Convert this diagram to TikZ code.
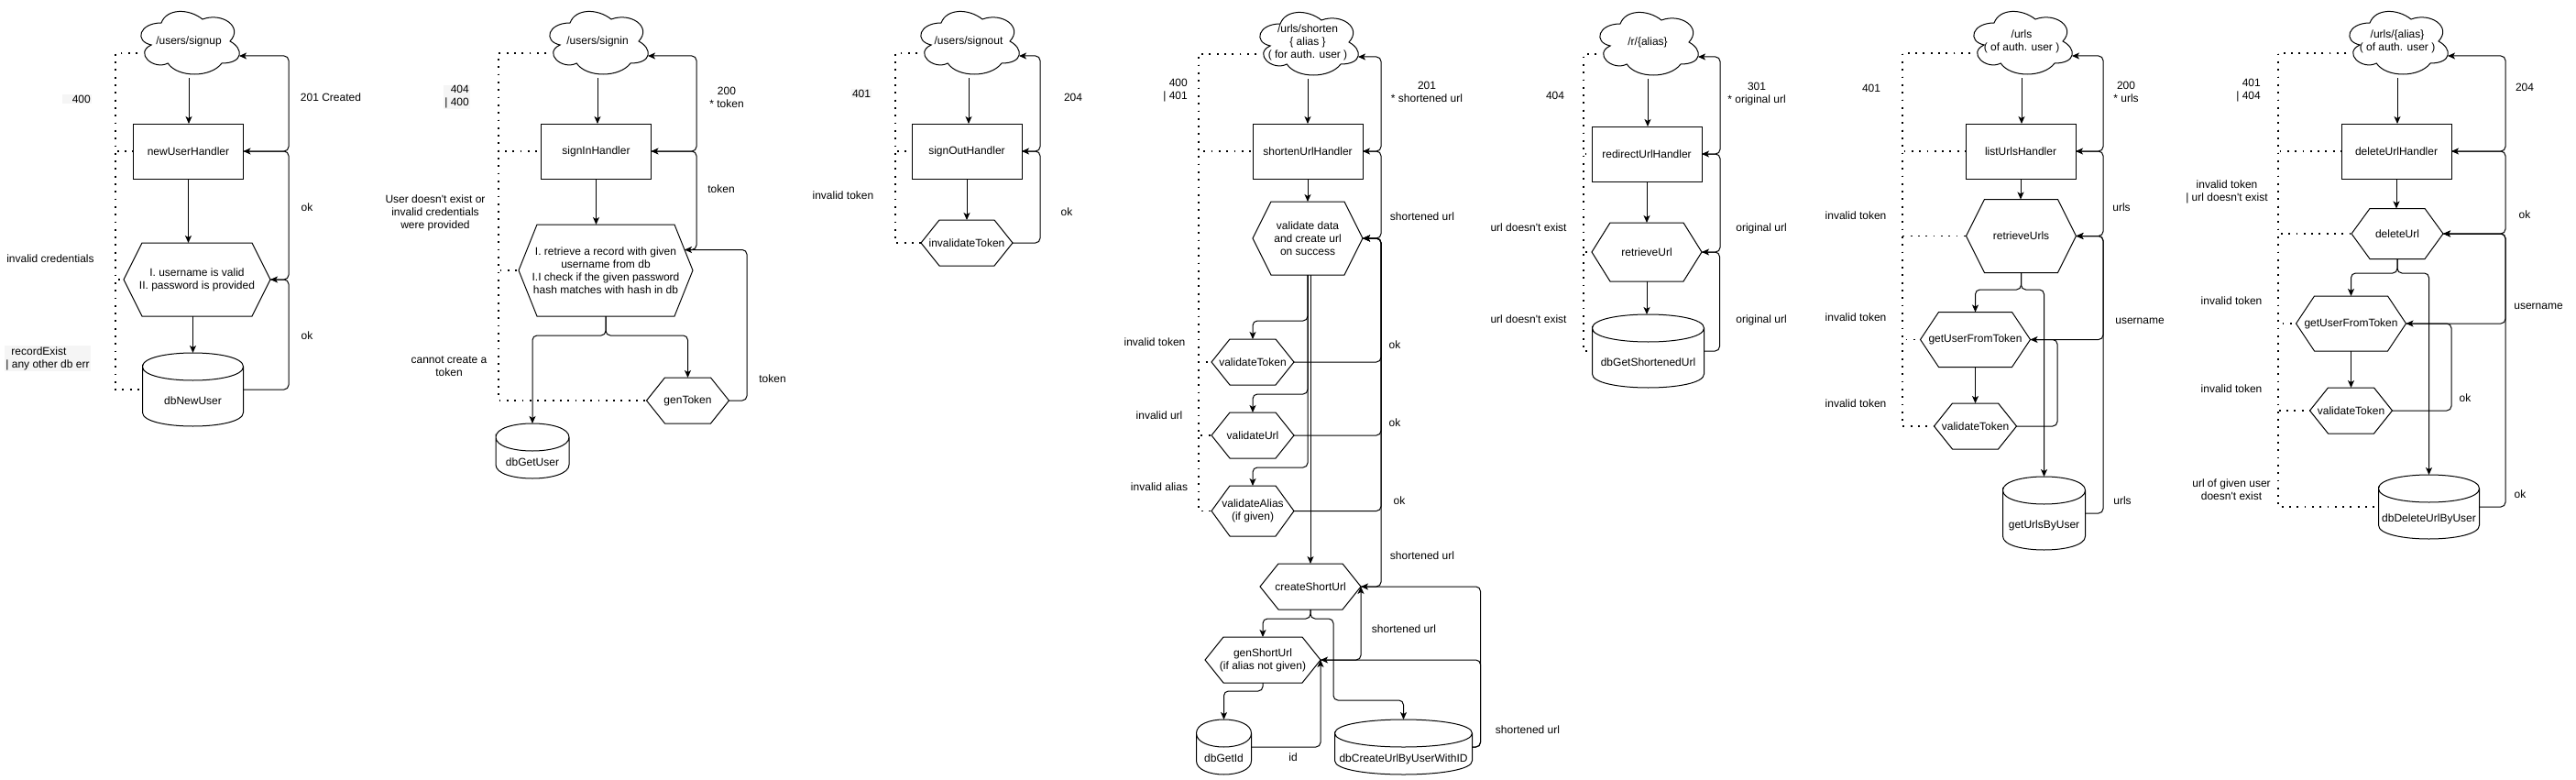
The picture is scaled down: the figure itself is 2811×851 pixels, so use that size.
\documentclass[tikz,border=0pt]{standalone}
\usepackage{fontspec}
\setmainfont{Liberation Sans}
\usetikzlibrary{arrows.meta,calc}

\begin{document}
\begin{tikzpicture}[x=1pt,y=-1pt,
    every node/.style={font=\fontsize{12}{14}\selectfont},
    handler/.style={draw,line width=1pt,minimum width=120pt,minimum height=60pt,outer sep=0pt},
    hexbox/.style 2 args={minimum width=#1,minimum height=#2,inner sep=0pt,outer sep=0pt,align=center},
    dbbox/.style 2 args={minimum width=#1,minimum height=#2,inner sep=0pt,outer sep=0pt,text height=35pt,text depth=2.5pt},
    cloudbox/.style={minimum width=120pt,minimum height=80pt,inner sep=0pt,outer sep=0pt,align=center},
    lbl/.style={align=center,inner sep=1pt},
    hl/.style={fill=black!4},
    flow/.style={line width=1pt,rounded corners=5pt,-{Stealth[length=8pt,width=7pt,inset=2pt]}},
    err/.style={line width=1.8pt,dash pattern=on 1.8pt off 6.5pt}]

    \fill[white] (0,0) rectangle (2811,851);
    \useasboundingbox (0,0) rectangle (2811,851);

    % signup
    \node[cloudbox] (c1) at (206,45) {/users/signup};
    \node[handler] (r1) at (205.5,165) {newUserHandler};
    \node[hexbox={160pt}{80pt}] (x1) at (215,305) {I. username is valid\\II. password is provided};
    \node[dbbox={110pt}{80pt}] (d1) at (210.5,425) {dbNewUser};
    \coordinate (c1in) at ([xshift=-5pt,yshift=-16pt]c1.east);
    \coordinate (c1e) at ([xshift=4pt,yshift=-13pt]c1.west);

    \draw[flow] (c1.south) -- (c1.south |- r1.north);
    \draw[flow] (r1.south) -- (r1.south |- x1.north);
    \draw[flow] (x1.south -| d1.north) -- (d1.north);
    \draw[flow] (d1.east) -- ++(49.5,0) |- (x1.east);
    \draw[flow] (x1.east) -- ++(20,0) |- (r1.east);
    \draw[flow] (r1.east) -- ++(49.5,0) |- (c1in);
    \foreach \t in {r1,x1,d1} \draw[err] (c1e) -- ++(-24,0) |- (\t.west);

    \node[lbl,hl,anchor=east] (l1a) at (100,108) {\hspace{10pt}400};
    \node[lbl] (l1b) at (55,282) {invalid credentials};
    \node[lbl,hl,align=left] (l1c) at (52,391) {\hspace{6pt}recordExist\\| any other db err};
    \node[lbl] (l1d) at (361,106) {201 Created};
    \node[lbl] (l1e) at (335,226) {ok};
    \node[lbl] (l1f) at (335,366) {ok};

    % signin
    \node[cloudbox] (c2) at (652,45) {/users/signin};
    \node[handler] (r2) at (650.5,165) {signInHandler};
    \node[hexbox={190pt}{100pt}] (x2) at (661,295) {I. retrieve a record with given\\username from db\\I.I check if the given password\\hash matches with hash in db};
    \node[hexbox={90pt}{50pt}] (g2) at (750.5,437) {genToken};
    \node[dbbox={80pt}{60pt}] (b2) at (581,492) {dbGetUser};
    \coordinate (c2in) at ([xshift=-5pt,yshift=-16pt]c2.east);
    \coordinate (c2e) at ([xshift=4pt,yshift=-13pt]c2.west);
    \coordinate (x2tok) at ($([xshift=-20pt]x2.north east)!0.55!(x2.east)$);

    \draw[flow] (c2.south) -- (c2.south |- r2.north);
    \draw[flow] (r2.south) -- (r2.south |- x2.north);
    \draw[flow] (x2.south) -- ++(0,21) -| (b2.north);
    \draw[flow] (x2.south) -- ++(0,21) -| (g2.north);
    \draw[flow] (g2.east) -- ++(19.5,0) |- (x2tok);
    \draw[flow] (x2tok) -- ++(13,0) |- (r2.east);
    \draw[flow] (r2.east) -- ++(49.5,0) |- (c2in);
    \foreach \t in {r2,x2,g2} \draw[err] (c2e) -- ++(-52,0) |- (\t.west);

    \node[lbl,hl,anchor=east,align=right] (l2a) at (513,106) {404\\| 400};
    \node[lbl] (l2b) at (475,232) {User doesn\textquotesingle t exist or\\invalid credentials\\were provided};
    \node[lbl] (l2c) at (490,400) {cannot create a\\token};
    \node[lbl] (l2d) at (793,106) {200\\* token};
    \node[lbl] (l2e) at (787,206) {token};
    \node[lbl] (l2f) at (843,413) {token};

    % signout
    \node[cloudbox] (c3) at (1057,45) {/users/signout};
    \node[handler] (r3) at (1055,165) {signOutHandler};
    \node[hexbox={100pt}{50pt}] (x3) at (1055,265) {invalidateToken};
    \coordinate (c3in) at ([xshift=-5pt,yshift=-16pt]c3.east);
    \coordinate (c3e) at ([xshift=4pt,yshift=-13pt]c3.west);

    \draw[flow] (c3.south) -- (c3.south |- r3.north);
    \draw[flow] (r3.south) -- (x3.north);
    \draw[flow] (x3.east) -- ++(30,0) |- (r3.east);
    \draw[flow] (r3.east) -- ++(20,0) |- (c3in);
    \foreach \t in {r3,x3} \draw[err] (c3e) -- ++(-24,0) |- (\t.west);

    \node[lbl,hl] (l3a) at (940,102) {401};
    \node[lbl] (l3b) at (920,213) {invalid token};
    \node[lbl] (l3c) at (1171,106) {204};
    \node[lbl] (l3d) at (1164,231) {ok};

    % shorten
    \node[cloudbox] (c4) at (1427,46) {/urls/shorten\\\{ alias \}\\( for auth. user )};
    \node[handler] (r4) at (1427,165) {shortenUrlHandler};
    \node[hexbox={120pt}{80pt}] (v4) at (1427,260) {validate data\\and create url\\on success};
    \node[hexbox={90pt}{50pt}] (t4) at (1367,395) {validateToken};
    \node[hexbox={90pt}{50pt}] (u4) at (1367,475) {validateUrl};
    \node[hexbox={90pt}{55pt}] (a4) at (1367,557.5) {validateAlias\\(if given)};
    \node[hexbox={110pt}{50pt}] (s4) at (1430,640) {createShortUrl};
    \node[hexbox={126pt}{50pt}] (g4) at (1378,720) {genShortUrl\\(if alias not given)};
    \node[dbbox={60pt}{60pt}] (i4) at (1335.5,815) {dbGetId};
    \node[dbbox={150pt}{60pt}] (d4) at (1531.5,815) {dbCreateUrlByUserWithID};
    \coordinate (c4in) at ([xshift=-5pt,yshift=-16pt]c4.east);
    \coordinate (c4e) at ([xshift=4pt,yshift=-13pt]c4.west);

    \draw[flow] (c4.south) -- (r4.north);
    \draw[flow] (r4.south) -- (v4.north);
    \draw[flow] (v4.south) -- ++(0,50) -| (t4.north);
    \draw[flow] (v4.south) -- ++(0,130) -| (u4.north);
    \draw[flow] (v4.south) -- ++(0,210) -| (a4.north);
    \draw[flow] (v4.south -| s4.north) -- (s4.north);
    \draw[flow] (t4.east) -- ++(95,0) |- (v4.east);
    \draw[flow] (u4.east) -- ++(95,0) |- (v4.east);
    \draw[flow] (a4.east) -- ++(95,0) |- (v4.east);
    \draw[flow] (s4.east) -- ++(22,0) |- (v4.east);
    \draw[flow] (v4.east) -- ++(20,0) |- (r4.east);
    \draw[flow] (r4.east) -- ++(20,0) |- (c4in);
    \draw[flow] (s4.south) -- ++(0,10) -| (g4.north);
    \draw[flow] (s4.south) -- ++(0,10) -- ++(25,0) -- ++(0,89) -| (d4.north);
    \draw[flow] (g4.south) -- ++(0,9) -| (i4.north);
    \draw[flow] (i4.east) -| (g4.east);
    \draw[flow] (g4.east) -| (s4.east);
    \draw[flow] (d4.east) -- ++(9,0) |- (g4.east);
    \draw[flow] (d4.east) -- ++(9,0) |- (s4.east);
    \foreach \t in {r4,t4,u4,a4} \draw[err] (c4e) -- ++(-63,0) |- (\t.west);

    \node[lbl,anchor=east,align=right] (l4a) at (1297,99) {400\\| 401};
    \node[lbl] (l4b) at (1260,373) {invalid token};
    \node[lbl] (l4c) at (1265,453) {invalid url};
    \node[lbl] (l4d) at (1265,531) {invalid alias};
    \node[lbl] (l4e) at (1557,100) {201\\* shortened url};
    \node[lbl] (l4f) at (1552,236) {shortened url};
    \node[lbl] (l4g) at (1522,376) {ok};
    \node[lbl] (l4h) at (1522,461) {ok};
    \node[lbl] (l4i) at (1527,546) {ok};
    \node[lbl] (l4j) at (1552,606) {shortened url};
    \node[lbl] (l4k) at (1532,686) {shortened url};
    \node[lbl] (l4l) at (1411,826) {id};
    \node[lbl] (l4m) at (1667,796) {shortened url};

    % redirect
    \node[cloudbox] (c5) at (1798,46) {/r/\{alias\}};
    \node[handler] (r5) at (1797,168) {redirectUrlHandler};
    \node[hexbox={120pt}{64pt}] (x5) at (1797,275) {retrieveUrl};
    \node[dbbox={122pt}{80pt}] (d5) at (1798.5,383) {dbGetShortenedUrl};
    \coordinate (c5in) at ([xshift=-5pt,yshift=-16pt]c5.east);
    \coordinate (c5e) at ([xshift=4pt,yshift=-13pt]c5.west);

    \draw[flow] (c5.south) -- (c5.south |- r5.north);
    \draw[flow] (r5.south) -- (x5.north);
    \draw[flow] (x5.south) -- (x5.south |- d5.north);
    \draw[flow] (d5.east) -- ++(17,0) |- (x5.east);
    \draw[flow] (x5.east) -- ++(20,0) |- (r5.east);
    \draw[flow] (r5.east) -- ++(20,0) |- (c5in);
    \foreach \t in {r5,x5,d5} \draw[err] (c5e) -- ++(-14,0) |- (\t.west);

    \node[lbl] (l5a) at (1697,104) {404};
    \node[lbl] (l5b) at (1668,248) {url doesn\textquotesingle t exist};
    \node[lbl] (l5c) at (1668,348) {url doesn\textquotesingle t exist};
    \node[lbl] (l5d) at (1917,103) {301\\* original url};
    \node[lbl] (l5e) at (1922,249) {original url};
    \node[lbl] (l5f) at (1922,349) {original url};

    % list urls
    \node[cloudbox] (c6) at (2206,45) {/urls\\( of auth. user )};
    \node[handler] (r6) at (2205,165) {listUrlsHandler};
    \node[hexbox={120pt}{80pt}] (x6) at (2205.5,257.5) {retrieveUrls};
    \node[hexbox={120pt}{60pt}] (f6) at (2155.5,370.5) {getUserFromToken};
    \node[hexbox={90pt}{50pt}] (t6) at (2155.5,465) {validateToken};
    \node[dbbox={90pt}{80pt}] (d6) at (2230.5,560) {getUrlsByUser};
    \coordinate (c6in) at ([xshift=-5pt,yshift=-16pt]c6.east);
    \coordinate (c6e) at ([xshift=4pt,yshift=-13pt]c6.west);

    \draw[flow] (c6.south) -- (c6.south |- r6.north);
    \draw[flow] (r6.south) -- (r6.south |- x6.north);
    \draw[flow] (x6.south) -- ++(0,18.5) -| (f6.north);
    \draw[flow] (x6.south) -- ++(0,18.5) -| (d6.north);
    \draw[flow] (f6.south) -- (t6.north);
    \draw[flow] (t6.east) -- ++(44.5,0) |- (f6.east);
    \draw[flow] (f6.east) -- ++(79.5,0) |- (x6.east);
    \draw[flow] (d6.east) -- ++(19.5,0) |- (x6.east);
    \draw[flow] (x6.east) -- ++(29.5,0) |- (r6.east);
    \draw[flow] (r6.east) -- ++(30,0) |- (c6in);
    \foreach \t in {r6,x6,f6,t6} \draw[err] (c6e) -- ++(-74,0) |- (\t.west);

    \node[lbl] (l6a) at (2042,96) {401};
    \node[lbl] (l6b) at (2025,235) {invalid token};
    \node[lbl] (l6c) at (2025,346) {invalid token};
    \node[lbl] (l6d) at (2025,440) {invalid token};
    \node[lbl] (l6e) at (2320,100) {200\\* urls};
    \node[lbl] (l6f) at (2315,226) {urls};
    \node[lbl] (l6g) at (2335,350) {username};
    \node[lbl] (l6h) at (2316,546) {urls};

    % delete url
    \node[cloudbox] (c7) at (2616,45) {/urls/\{alias\}\\( of auth. user )};
    \node[handler] (r7) at (2615,165) {deleteUrlHandler};
    \node[hexbox={100pt}{55pt}] (x7) at (2616,255) {deleteUrl};
    \node[hexbox={120pt}{60pt}] (f7) at (2565.5,353) {getUserFromToken};
    \node[hexbox={90pt}{50pt}] (t7) at (2565.5,448) {validateToken};
    \node[dbbox={110pt}{70pt}] (d7) at (2650.5,553) {dbDeleteUrlByUser};
    \coordinate (c7in) at ([xshift=-5pt,yshift=-16pt]c7.east);
    \coordinate (c7e) at ([xshift=4pt,yshift=-13pt]c7.west);

    \draw[flow] (c7.south) -- (c7.south |- r7.north);
    \draw[flow] (r7.south) -- (r7.south |- x7.north);
    \draw[flow] (x7.south) -- ++(0,15.5) -| (f7.north);
    \draw[flow] (x7.south) -- ++(0,15.5) -| (d7.north);
    \draw[flow] (f7.south) -- (t7.north);
    \draw[flow] (t7.east) -- ++(64.5,0) |- (f7.east);
    \draw[flow] (f7.east) -- ++(108.5,0) |- (x7.east);
    \draw[flow] (d7.east) -- ++(28.5,0) |- (x7.east);
    \draw[flow] (x7.east) -- ++(68,0) |- (r7.east);
    \draw[flow] (r7.east) -- ++(59,0) |- (c7in);
    \foreach \t in {r7,x7,f7,t7,d7} \draw[err] (c7e) -- ++(-74,0) |- (\t.west);

    \node[lbl,anchor=east,align=right] (l7a) at (2468,99) {401\\| 404};
    \node[lbl] (l7b) at (2430,209) {invalid token\\| url doesn\textquotesingle t exist};
    \node[lbl] (l7c) at (2435,328.5) {invalid token};
    \node[lbl] (l7d) at (2435,424) {invalid token};
    \node[lbl] (l7e) at (2435,534) {url of given user\\doesn\textquotesingle t exist};
    \node[lbl] (l7f) at (2755,95) {204};
    \node[lbl] (l7g) at (2755,234) {ok};
    \node[lbl] (l7h) at (2770,334) {username};
    \node[lbl] (l7i) at (2690,434) {ok};
    \node[lbl] (l7j) at (2750,539) {ok};

    % outlines
    \foreach \n in {c1,c2,c3,c4,c5,c6,c7}
      \draw[line width=1pt,shift={(\n.north west)},x=120pt,y=-80pt] (0.25,0.25) .. controls (0.05,0.25) and (0,0.5) .. (0.16,0.55) .. controls (0,0.66) and (0.18,0.9) .. (0.31,0.8) .. controls (0.4,1) and (0.7,1) .. (0.8,0.8) .. controls (1,0.8) and (1,0.6) .. (0.875,0.5) .. controls (1,0.3) and (0.8,0.1) .. (0.625,0.2) .. controls (0.5,0.05) and (0.3,0.05) .. (0.25,0.25) -- cycle;
    \foreach \n in {x1,x2,g2,x3,v4,t4,u4,a4,s4,g4,x5,x6,f6,t6,x7,f7,t7}
      \draw[line width=1pt] ([xshift=20pt]\n.north west) -- ([xshift=-20pt]\n.north east) -- (\n.east) -- ([xshift=-20pt]\n.south east) -- ([xshift=20pt]\n.south west) -- (\n.west) -- cycle;
    \foreach \n in {d1,b2,i4,d4,d5,d6,d7}
      \draw[line width=1pt] ([yshift=-15pt]\n.north west) .. controls ([yshift=5pt]\n.north west) and ([yshift=5pt]\n.north east) .. ([yshift=-15pt]\n.north east) .. controls ([yshift=-35pt]\n.north east) and ([yshift=-35pt]\n.north west) .. ([yshift=-15pt]\n.north west) -- ([yshift=15pt]\n.south west) .. controls ([yshift=-5pt]\n.south west) and ([yshift=-5pt]\n.south east) .. ([yshift=15pt]\n.south east) -- ([yshift=-15pt]\n.north east);
  \end{tikzpicture}
\end{document}
